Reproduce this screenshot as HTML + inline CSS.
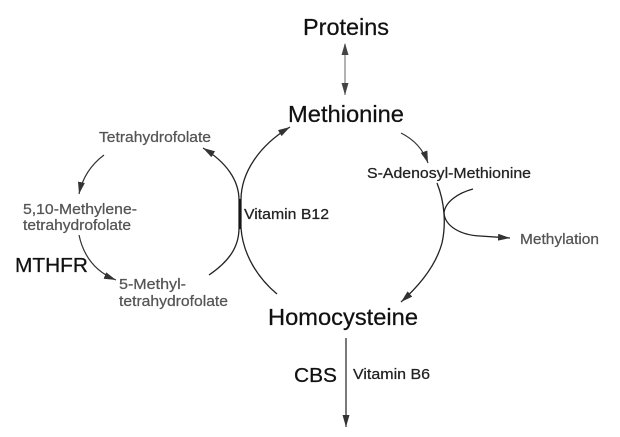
<!DOCTYPE html>
<html>
<head>
<meta charset="utf-8">
<style>
html,body{margin:0;padding:0;background:#fff;}
svg{display:block;}
text{font-family:"Liberation Sans",Arial,sans-serif;}
</style>
</head>
<body>
<svg width="620" height="437" viewBox="0 0 620 437" xmlns="http://www.w3.org/2000/svg">
<defs>
<marker id="ah" markerUnits="userSpaceOnUse" markerWidth="13" markerHeight="7" refX="12" refY="3.5" orient="auto">
<path d="M0,0 L12,3.5 L0,7 z" fill="#333"/>
</marker>
<marker id="ahg" markerUnits="userSpaceOnUse" markerWidth="13" markerHeight="7" refX="12" refY="3.5" orient="auto">
<path d="M0,0 L12,3.5 L0,7 z" fill="#444"/>
</marker>
<marker id="ahs" markerUnits="userSpaceOnUse" markerWidth="13" markerHeight="7" refX="1" refY="3.5" orient="auto">
<path d="M12,0 L0,3.5 L12,7 z" fill="#444"/>
</marker>
</defs>

<rect width="620" height="437" fill="#fff"/>

<!-- Proteins <-> Methionine -->
<line x1="345" y1="44" x2="345" y2="95" stroke="#888" stroke-width="1.3" marker-start="url(#ahs)" marker-end="url(#ahg)"/>

<!-- Methionine -> SAM -->
<path d="M401,133 Q421,143 428,163" fill="none" stroke="#333" stroke-width="1.2" marker-end="url(#ah)"/>

<!-- Right arc SAM -> Homocysteine -->
<path d="M437,183 C445,203 446,225 442,243 C436,265 420,285 401,302" fill="none" stroke="#222" stroke-width="1.3" marker-end="url(#ah)"/>

<!-- Methylation branch -->
<path d="M473,189 C458,193 445,202 444,213 C445,226 460,235 480,236 L510,238" fill="none" stroke="#222" stroke-width="1.3" marker-end="url(#ah)"/>

<!-- Left methionine arc: Homocysteine -> Methionine -->
<path d="M277,294 C258,278 243,255 241,228 L241,200 C241,172 260,145 290,127" fill="none" stroke="#222" stroke-width="1.3" marker-end="url(#ah)"/>

<!-- Folate arc: 5-Methyl-THF -> THF -->
<path d="M209,275 C228,262 239,248 239,228 L239,200 C239,180 226,162 203,148" fill="none" stroke="#222" stroke-width="1.3" marker-end="url(#ah)"/>
<line x1="240" y1="199" x2="240" y2="229" stroke="#111" stroke-width="1.4"/>

<!-- THF -> 5,10-Methylene -->
<path d="M104,155 Q84,170 79,194" fill="none" stroke="#333" stroke-width="1.2" marker-end="url(#ah)"/>

<!-- 5,10 -> 5-Methyl -->
<path d="M79,235 Q86,268 116,280" fill="none" stroke="#333" stroke-width="1.2" marker-end="url(#ah)"/>

<!-- Homocysteine down -->
<line x1="346" y1="338" x2="346" y2="427" stroke="#333" stroke-width="1.3" marker-end="url(#ah)"/>

<!-- Texts -->
<g stroke-width="0.25">
<text x="303" y="35" font-size="23.5" fill="#111" stroke="#111" textLength="86" lengthAdjust="spacingAndGlyphs">Proteins</text>
<text x="288" y="122" font-size="23.5" fill="#111" stroke="#111" textLength="116" lengthAdjust="spacingAndGlyphs">Methionine</text>
<text x="99" y="142" font-size="14.5" fill="#555" stroke="#555" textLength="112" lengthAdjust="spacingAndGlyphs">Tetrahydrofolate</text>
<text x="367" y="178" font-size="15" fill="#222" stroke="#222" textLength="164" lengthAdjust="spacingAndGlyphs">S-Adenosyl-Methionine</text>
<text x="23" y="214" font-size="15" fill="#555" stroke="#555" textLength="114" lengthAdjust="spacingAndGlyphs">5,10-Methylene-</text>
<text x="23" y="230" font-size="15" fill="#555" stroke="#555" textLength="108" lengthAdjust="spacingAndGlyphs">tetrahydrofolate</text>
<text x="244" y="219" font-size="15" fill="#222" stroke="#222" textLength="85" lengthAdjust="spacingAndGlyphs">Vitamin B12</text>
<text x="520" y="244" font-size="14.5" fill="#555" stroke="#555" textLength="79" lengthAdjust="spacingAndGlyphs">Methylation</text>
<text x="15" y="272" font-size="20.5" fill="#111" stroke="#111" textLength="73" lengthAdjust="spacingAndGlyphs">MTHFR</text>
<text x="119" y="289" font-size="15" fill="#555" stroke="#555" textLength="67" lengthAdjust="spacingAndGlyphs">5-Methyl-</text>
<text x="119" y="306" font-size="15" fill="#555" stroke="#555" textLength="109" lengthAdjust="spacingAndGlyphs">tetrahydrofolate</text>
<text x="268" y="325" font-size="23.5" fill="#111" stroke="#111" textLength="150" lengthAdjust="spacingAndGlyphs">Homocysteine</text>
<text x="294" y="382" font-size="20.5" fill="#111" stroke="#111" textLength="43" lengthAdjust="spacingAndGlyphs">CBS</text>
<text x="353" y="379" font-size="15" fill="#222" stroke="#222" textLength="77" lengthAdjust="spacingAndGlyphs">Vitamin B6</text>
</g>
</svg>
</body>
</html>
